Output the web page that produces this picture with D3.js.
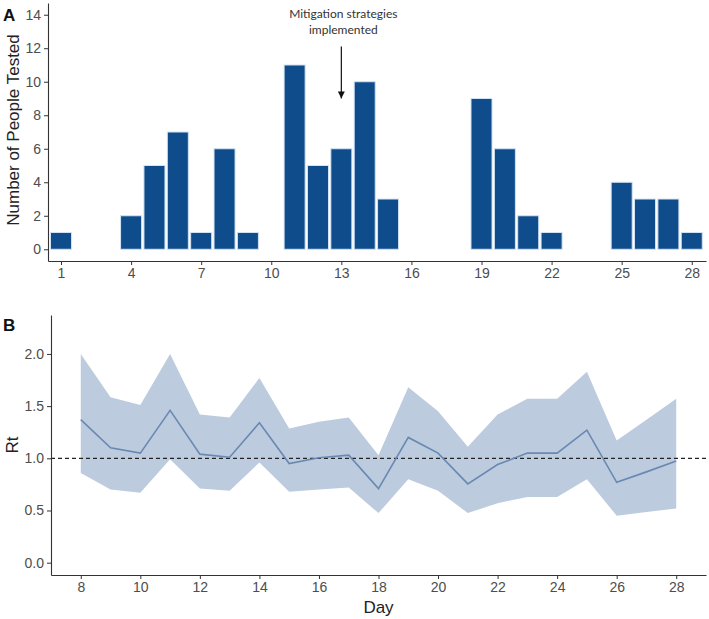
<!DOCTYPE html>
<html>
<head>
<meta charset="utf-8">
<script src="https://cdn.jsdelivr.net/npm/d3@7"></script>
<style>
  body { margin: 0; background: #fff; }
  svg { display: block; }
</style>
</head>
<body>
<svg id="chart" width="709" height="619"></svg>
<script>
// ---- Panel A data ----
const days = d3.range(1, 29);
const tested = [1, 0, 0, 2, 5, 7, 1, 6, 1, 0, 11, 5, 6, 10, 3, 0, 0, 0, 9, 6, 2, 1, 0, 0, 4, 3, 3, 1];
const xTicksA = [1, 4, 7, 10, 13, 16, 19, 22, 25, 28];
const yTicksA = [0, 2, 4, 6, 8, 10, 12, 14];
const annotationLines = ["Mitigation strategies", "implemented"];
const annotationDay = 13;
const arrowFrom = 12.1, arrowTo = 9.0;

// ---- Panel B data ----
const rtDays = d3.range(8, 29);
const rtMean  = [1.37, 1.10, 1.05, 1.46, 1.04, 1.01, 1.34, 0.95, 1.005, 1.03, 0.71, 1.20, 1.05, 0.755, 0.94, 1.05, 1.05, 1.27, 0.77, 0.87, 0.975];
const rtLower = [0.86, 0.70, 0.67, 0.99, 0.71, 0.69, 0.96, 0.68, 0.70, 0.72, 0.475, 0.80, 0.69, 0.475, 0.57, 0.63, 0.63, 0.80, 0.45, 0.485, 0.52];
const rtUpper = [2.00, 1.585, 1.51, 2.00, 1.42, 1.39, 1.77, 1.285, 1.35, 1.39, 1.03, 1.68, 1.45, 1.11, 1.42, 1.57, 1.57, 1.83, 1.17, 1.37, 1.57];
const xTicksB = [8, 10, 12, 14, 16, 18, 20, 22, 24, 26, 28];
const yTicksB = [0, 0.5, 1.0, 1.5, 2.0];

const svg = d3.select("#chart");
const axisColor = "#333";
const tickText = "#4d4d4d";
const font = "'Liberation Sans', Arial, sans-serif";

function styleAxis(g) {
  g.selectAll(".domain").attr("stroke", axisColor).attr("stroke-width", 1.1);
  g.selectAll(".tick line").attr("stroke", axisColor).attr("stroke-width", 1);
  g.selectAll(".tick text").attr("fill", tickText).style("font-family", font).style("font-size", "14px");
}

// ================= Panel A =================
const xA = d3.scaleLinear().domain([0.443, 28.61]).range([48, 706]);
const yA = d3.scaleLinear().domain([-0.7, 14.7]).range([261, 3]);
const gA = svg.append("g");

const barW = 0.9;
gA.selectAll("rect.bar").data(days.map((d, i) => ({ day: d, v: tested[i] })).filter(d => d.v > 0))
  .enter().append("rect")
  .attr("class", "bar")
  .attr("x", d => xA(d.day - barW / 2))
  .attr("width", d => xA(d.day + barW / 2) - xA(d.day - barW / 2))
  .attr("y", d => yA(d.v))
  .attr("height", d => yA(0) - yA(d.v))
  .attr("fill", "#0f4c8b")
  .attr("stroke", "#d3e3f3")
  .attr("stroke-width", 1);

const axAx = gA.append("g").attr("transform", `translate(0,261)`)
  .call(d3.axisBottom(xA).tickValues(xTicksA).tickSize(4).tickSizeOuter(0).tickPadding(3));
styleAxis(axAx);
const axAy = gA.append("g").attr("transform", `translate(48,0)`)
  .call(d3.axisLeft(yA).tickValues(yTicksA).tickSize(4).tickSizeOuter(0).tickPadding(3));
styleAxis(axAy);

gA.append("text")
  .attr("transform", `translate(19,${(yA(-0.7) + yA(14.7)) / 2 - 2}) rotate(-90)`)
  .attr("text-anchor", "middle")
  .style("font-family", font).style("font-size", "17px").attr("fill", "#222")
  .text("Number of People Tested");

gA.append("text").attr("x", 3).attr("y", 21)
  .style("font-family", font).style("font-size", "17px").style("font-weight", "bold").attr("fill", "#111")
  .text("A");

// annotation
const annX = xA(annotationDay) + 2;
gA.selectAll("text.ann").data(annotationLines).enter().append("text")
  .attr("class", "ann")
  .attr("x", annX)
  .attr("y", (d, i) => 18 + i * 16)
  .attr("text-anchor", "middle")
  .style("font-family", "Lato, 'Open Sans', sans-serif").style("font-size", "12px").attr("fill", "#333")
  .text(d => d);

const defs = svg.append("defs");
defs.append("marker").attr("id", "arrow").attr("viewBox", "0 0 10 10")
  .attr("refX", 10).attr("refY", 5).attr("markerWidth", 7).attr("markerHeight", 7)
  .attr("markerUnits", "userSpaceOnUse")
  .attr("orient", "auto")
  .append("path").attr("d", "M0,0 L10,5 L0,10 z").attr("fill", "#111");

gA.append("line")
  .attr("x1", xA(annotationDay)).attr("x2", xA(annotationDay))
  .attr("y1", yA(arrowFrom)).attr("y2", yA(arrowTo))
  .attr("stroke", "#111").attr("stroke-width", 1.2)
  .attr("marker-end", "url(#arrow)");

// ================= Panel B =================
const xB = d3.scaleLinear().domain([7, 29]).range([51, 706]);
const yB = d3.scaleLinear().domain([-0.118, 2.373]).range([575, 315]);
const gB = svg.append("g");

const rows = rtDays.map((d, i) => ({ day: d, m: rtMean[i], lo: rtLower[i], hi: rtUpper[i] }));

gB.append("path").datum(rows)
  .attr("d", d3.area().x(d => xB(d.day)).y0(d => yB(d.lo)).y1(d => yB(d.hi)))
  .attr("fill", "#bccbde");

gB.append("line")
  .attr("x1", xB(7)).attr("x2", xB(29))
  .attr("y1", yB(1)).attr("y2", yB(1))
  .attr("stroke", "#222").attr("stroke-width", 1.2).attr("stroke-dasharray", "4,3");

gB.append("path").datum(rows)
  .attr("d", d3.line().x(d => xB(d.day)).y(d => yB(d.m)))
  .attr("fill", "none").attr("stroke", "#6989b2").attr("stroke-width", 1.6);

const axBx = gB.append("g").attr("transform", `translate(0,575)`)
  .call(d3.axisBottom(xB).tickValues(xTicksB).tickSize(4).tickSizeOuter(0).tickPadding(3));
styleAxis(axBx);
const axBy = gB.append("g").attr("transform", `translate(51,0)`)
  .call(d3.axisLeft(yB).tickValues(yTicksB).tickFormat(d3.format(".1f")).tickSize(4).tickSizeOuter(0).tickPadding(3));
styleAxis(axBy);

gB.append("text")
  .attr("transform", `translate(18,445) rotate(-90)`)
  .attr("text-anchor", "middle")
  .style("font-family", font).style("font-size", "17px").attr("fill", "#222")
  .text("Rt");

gB.append("text").attr("x", xB(18)).attr("y", 613)
  .attr("text-anchor", "middle")
  .style("font-family", font).style("font-size", "17px").attr("fill", "#222")
  .text("Day");

gB.append("text").attr("x", 3).attr("y", 331)
  .style("font-family", font).style("font-size", "17px").style("font-weight", "bold").attr("fill", "#111")
  .text("B");
</script>
</body>
</html>
